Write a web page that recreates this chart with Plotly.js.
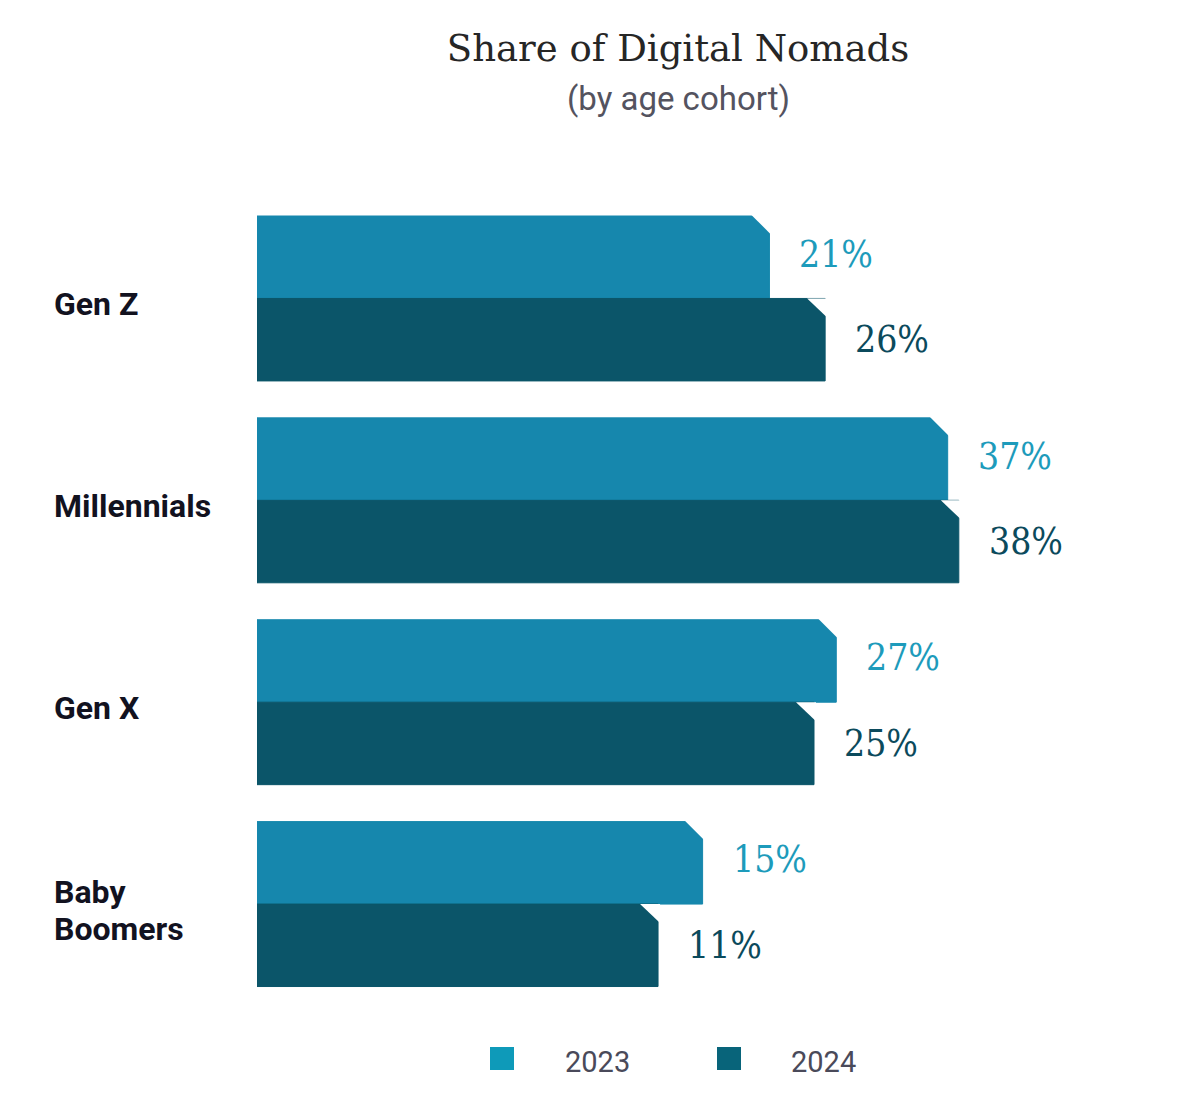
<!DOCTYPE html>
<html>
<head>
<meta charset="utf-8">
<script src="https://cdn.plot.ly/plotly-3.0.1.min.js"></script>
<style>
  html, body { margin: 0; padding: 0; background: #fff; }
  #chart { width: 1200px; height: 1117px; }
</style>
</head>
<body>
<div id="chart"></div>
<script>
// ── Data ──────────────────────────────────────────────────────────────────────
const cohorts    = ['Gen Z', 'Millennials', 'Gen X', 'Baby<br>Boomers'];
const years      = ['2023', '2024'];
const share2023  = [21, 37, 27, 15];
const share2024  = [26, 38, 25, 11];

// ── Look ──────────────────────────────────────────────────────────────────────
const BAR_COLORS    = ['#1687ad', '#0b5569'];
const LABEL_COLORS  = ['#1d9bbb', '#0b4a5c'];
const SWATCH_COLORS = ['#0e9ab9', '#08647a'];
const BASE    = -25;         // bars start left of zero, as in the original art
const BARGAP  = 0.183;
const CHAMFER = 18;          // px cut from the top-right corner of each bar
const LINE_H  = 37;          // px between lines of a two-line category label
const SLAB    = "'DejaVu Serif Condensed', 'DejaVu Serif', serif";

const el = document.getElementById('chart');
const W = 1200, H = 1117;
const M = { l: 257, r: 101, t: 197, b: 112 };
const plotW = W - M.l - M.r;
const plotH = H - M.t - M.b;
const pxX = (px) => (px - M.l) / plotW;          // page px -> paper x
const pxY = (py) => (H - M.b - py) / plotH;      // page px -> paper y

const series = [share2023, share2024];
const half = (1 - BARGAP) / 2;
const centreOffset = [-half / 2, half / 2];     // 2023 above, 2024 below
const topOffset    = [-0.5 + BARGAP / 2, 0];

const traces = series.map((vals, s) => ({
  type: 'bar', orientation: 'h',
  name: years[s],
  y: cohorts,
  x: vals.map(v => v - BASE),
  base: BASE,
  // a hairline outline in the fill colour hides the anti-aliased seam
  marker: { color: BAR_COLORS[s], line: { width: 1, color: BAR_COLORS[s] } },
  hovertemplate: `${years[s]}: %{customdata}%<extra></extra>`,
  customdata: vals,
  showlegend: false,
}));

// white triangles that chamfer the top-right corner of every bar
const shapes = [];
series.forEach((vals, s) => vals.forEach((v, i) => {
  shapes.push({
    type: 'path', layer: 'above',
    xref: 'x', yref: 'y',
    xsizemode: 'pixel', ysizemode: 'pixel',
    xanchor: v, yanchor: i + topOffset[s],
    path: `M${-CHAMFER},${s ? 0 : 1} L2,${s ? 0 : 1} L2,${-CHAMFER - 1} Z`,
    fillcolor: '#ffffff', line: { width: 0 },
  });
}));

// legend swatches
years.forEach((yr, s) => {
  const x0 = [490, 717][s];
  shapes.push({
    type: 'rect', xref: 'paper', yref: 'paper',
    x0: pxX(x0), x1: pxX(x0 + 24), y0: pxY(1070), y1: pxY(1047),
    fillcolor: SWATCH_COLORS[s], line: { width: 0 },
  });
});

const annotations = [];

// value labels
series.forEach((vals, s) => vals.forEach((v, i) => {
  annotations.push({
    x: v, y: i + centreOffset[s], xref: 'x', yref: 'y',
    text: `${v}%`, showarrow: false,
    xanchor: 'left', yanchor: 'middle', xshift: 28, yshift: s ? 0 : 3,
    font: { family: SLAB, size: 37, color: LABEL_COLORS[s] },
  });
}));

// category labels, left aligned, one annotation per line for tighter leading
cohorts.forEach((c, i) => {
  const lines = c.split('<br>');
  lines.forEach((line, k) => {
    annotations.push({
      x: pxX(52), y: i, xref: 'paper', yref: 'y',
      text: line, showarrow: false, align: 'left',
      xanchor: 'left', yanchor: 'middle',
      yshift: -6 - (k - (lines.length - 1) / 2) * LINE_H,
      font: { family: 'Roboto, sans-serif', size: 32, weight: 'bold', color: '#12121f' },
    });
  });
});

// subtitle
annotations.push({
  x: 0.5, y: pxY(99), xref: 'paper', yref: 'paper',
  text: '(by age cohort)', showarrow: false,
  xanchor: 'center', yanchor: 'middle',
  font: { family: 'Roboto, sans-serif', size: 33, color: '#54535f' },
});

// legend texts
years.forEach((yr, s) => {
  annotations.push({
    x: pxX([563, 789][s]), y: pxY(1062), xref: 'paper', yref: 'paper',
    text: yr, showarrow: false, xanchor: 'left', yanchor: 'middle',
    font: { family: 'Roboto, sans-serif', size: 29, color: '#4a4a5a' },
  });
});

const layout = {
  width: W, height: H,
  margin: M,
  paper_bgcolor: '#ffffff',
  plot_bgcolor: '#ffffff',
  barmode: 'group',
  bargap: BARGAP,
  bargroupgap: 0,
  showlegend: false,
  title: {
    text: 'Share of Digital Nomads',
    xref: 'paper', x: 0.5, xanchor: 'center',
    yref: 'container', y: 1 - 48 / H, yanchor: 'middle',
    font: { family: "'DejaVu Serif', serif", size: 37, color: '#262626' },
  },
  xaxis: {
    range: [BASE, BASE + plotW / 11.14],
    visible: false, fixedrange: true,
  },
  yaxis: {
    autorange: 'reversed',
    showticklabels: false, showgrid: false, zeroline: false, showline: false,
    ticks: '', fixedrange: true,
  },
  shapes, annotations,
};

Plotly.newPlot(el, traces, layout, { displayModeBar: false, staticPlot: true });
</script>
</body>
</html>
